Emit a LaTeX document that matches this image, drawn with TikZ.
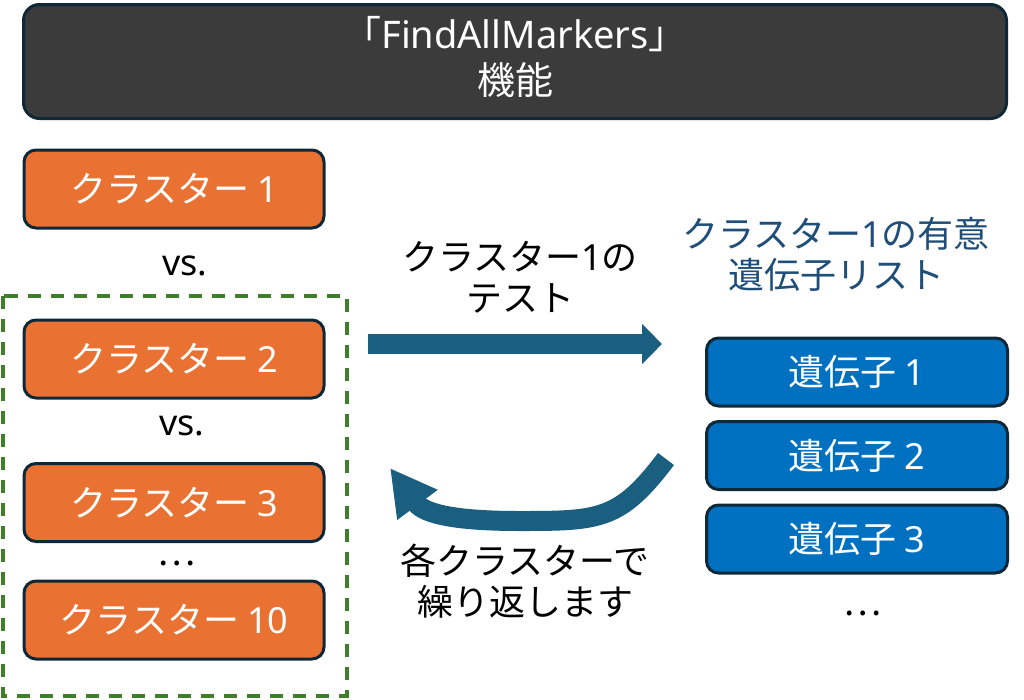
\documentclass[tikz,border=0pt]{standalone}
\usepackage{fontspec}
\setmainfont{Noto Sans CJK JP}
\newfontfamily\lat{Noto Sans}
\usetikzlibrary{arrows.meta}
\definecolor{hdrfill}{HTML}{3B3B3B}
\definecolor{edgenavy}{HTML}{0E2838}
\definecolor{orangefill}{HTML}{E97132}
\definecolor{bluefill}{HTML}{0070C0}
\definecolor{arrowblue}{HTML}{1A5E80}
\definecolor{dashgreen}{HTML}{3F7F29}
\definecolor{titleblue}{HTML}{1F4E79}
\tikzset{
  box/.style={draw=edgenavy, line width=3pt, rounded corners=12pt, text=white, font=\fontsize{36}{41}\selectfont, inner sep=0pt},
  clusterbox/.style={box, fill=orangefill, minimum width=300pt, minimum height=78pt},
  genebox/.style={box, fill=bluefill, minimum width=301pt, minimum height=68pt},
  label/.style={font=\fontsize{36}{41}\selectfont, align=center, inner sep=0pt},
  fatarrow/.style={draw=arrowblue, line width=20pt},
}
\begin{document}
\begin{tikzpicture}[x=1pt,y=-1pt]
\useasboundingbox (0,0) rectangle (1024,699);
% header
\node[box, fill=hdrfill, minimum width=983pt, minimum height=114pt, rounded corners=16pt] (hdr) at (515,61.5) {};
\node[label, text=white, font=\fontsize{38}{46}\selectfont] (hdrtxt) at (515,57) {「{\lat FindAllMarkers}」\\機能};
% dashed group
\draw[dashgreen, line width=4pt, dash pattern=on 13pt off 10pt] (2.5,296) rectangle (346.5,695.5);
% clusters
\node[clusterbox] (c1) at (174,189) {\raisebox{2pt}{クラスター {\lat 1}}};
\node[label] (vs1) at (185,266) {\lat vs.};
\node[clusterbox] (c2) at (174,359) {\raisebox{2pt}{クラスター {\lat 2}}};
\node[label] (vs2) at (182,426) {\lat vs.};
\node[label] (dots1) at (177,563) {…};
\node[clusterbox] (c3) at (174,502.5) {\raisebox{2pt}{クラスター {\lat 3}}};
\node[clusterbox] (c10) at (174,620) {\raisebox{2pt}{クラスター {\lat 10}}};
% right side
\node[label, text=titleblue] (ttl) at (836,254) {クラスター{\lat 1}の有意\\遺伝子リスト};
\node[genebox] (g1) at (857,372) {\raisebox{2pt}{遺伝子 {\lat 1}}};
\node[genebox] (g2) at (857,455.5) {\raisebox{2pt}{遺伝子 {\lat 2}}};
\node[genebox] (g3) at (857,539) {\raisebox{2pt}{遺伝子 {\lat 3}}};
\node[label] (dots2) at (863,613) {…};
% middle texts
\node[label] (test) at (520,277) {クラスター{\lat 1}の\\テスト};
\node[label] (rep) at (525,581) {各クラスターで\\繰り返します};
% arrows
\coordinate (a1s) at (368,344);
\coordinate (a1e) at (662,344);
\draw[fatarrow, -{Triangle[length=20pt,width=39pt]}] (a1s) -- (a1e);
\coordinate (a2s) at (666,459);
\coordinate (a2e) at (390,468);
\draw[fatarrow, -{Triangle[length=46pt,width=47pt]}] (a2s) .. controls (620,520) and (600,521) .. (520,521) .. controls (460,521) and (425,515) .. (a2e);
\end{tikzpicture}
\end{document}
